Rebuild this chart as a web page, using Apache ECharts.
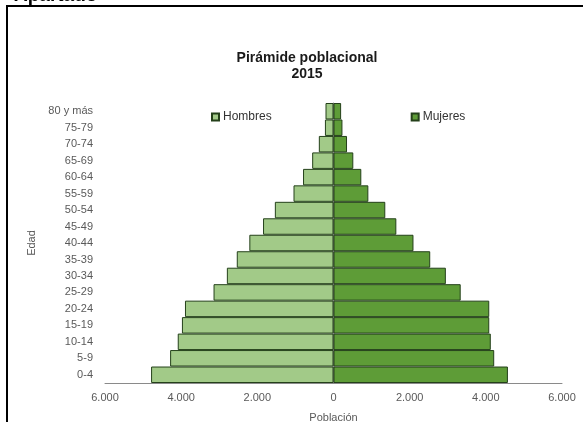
<!DOCTYPE html>
<html>
<head>
<meta charset="utf-8">
<script src="https://cdn.jsdelivr.net/npm/echarts@6/dist/echarts.min.js"></script>
<style>
html,body{margin:0;padding:0;background:#fff;}
#chart{width:583px;height:422px;}
</style>
</head>
<body>
<div id="chart"></div>
<script>
var categories = ['0-4','5-9','10-14','15-19','20-24','25-29','30-34','35-39','40-44','45-49','50-54','55-59','60-64','65-69','70-74','75-79','80 y más'];
var hombres = [4790, 4290, 4090, 3980, 3900, 3150, 2800, 2540, 2210, 1850, 1540, 1050, 800, 560, 385, 225, 210];
var mujeres = [4580, 4220, 4130, 4090, 4090, 3340, 2950, 2540, 2100, 1650, 1360, 915, 730, 520, 355, 235, 200];
var xTicks = {min: -6000, max: 6000, interval: 2000};

var font = "'Liberation Sans', Arial, sans-serif";
var chart = echarts.init(document.getElementById('chart'));
chart.setOption({
  animation: false,
  backgroundColor: '#ffffff',
  title: {
    text: 'Pirámide poblacional\n2015',
    left: 307, top: 50, textAlign: 'center', padding: 0,
    textStyle: {fontFamily: font, fontSize: 14, fontWeight: 'bold', color: '#1a1a1a', lineHeight: 16}
  },
  legend: {
    data: ['Hombres', 'Mujeres'],
    left: 211, top: 111, padding: 0,
    itemWidth: 7, itemHeight: 7, itemGap: 139,
    icon: 'rect',
    textStyle: {fontFamily: font, fontSize: 12, color: '#333', padding: [0,0,0,-1]}
  },
  grid: {left: 105, right: 21, top: 103, bottom: 39, containLabel: false, outerBoundsMode: 'none'},
  xAxis: {
    type: 'value', min: xTicks.min, max: xTicks.max, interval: xTicks.interval,
    name: 'Población', nameLocation: 'middle', nameGap: 29,
    nameTextStyle: {fontFamily: font, fontSize: 11, color: '#595959'},
    axisLine: {show: true, lineStyle: {color: '#8a8a8a', width: 1}},
    axisTick: {show: false},
    splitLine: {show: false},
    axisLabel: {
      fontFamily: font, fontSize: 11, color: '#595959', margin: 9,
      formatter: function (v) { return v === 0 ? '0' : (Math.abs(v) / 1000).toFixed(3); }
    }
  },
  yAxis: {
    type: 'category', data: categories,
    name: 'Edad', nameLocation: 'middle', nameGap: 64, nameRotate: 90,
    nameTextStyle: {fontFamily: font, fontSize: 11, color: '#595959'},
    axisLine: {show: true, lineStyle: {color: '#8a8a8a', width: 1}},
    axisTick: {show: false},
    axisLabel: {fontFamily: font, fontSize: 11, color: '#595959', margin: 12}
  },
  series: [
    {
      name: 'Hombres', type: 'bar', stack: 'total', barCategoryGap: 0,
      data: hombres.map(function (v) { return -v; }),
      itemStyle: {color: '#a2ca88', borderColor: '#24401a', borderWidth: 1}
    },
    {
      name: 'Mujeres', type: 'bar', stack: 'total', barCategoryGap: 0,
      data: mujeres,
      itemStyle: {color: '#5e9c37', borderColor: '#24401a', borderWidth: 1}
    }
  ],
  graphic: [
    {type: 'text', left: 14, top: -14, style: {text: 'Apartado', fontFamily: font, fontSize: 19, fontWeight: 'bold', fill: '#000'}},
    {type: 'rect', shape: {x: 0, y: 6, width: 583, height: 3}, style: {fill: '#fff'}},
    {type: 'line', shape: {x1: 7, y1: 6, x2: 583, y2: 6}, style: {stroke: '#000', lineWidth: 2}},
    {type: 'line', shape: {x1: 7, y1: 5, x2: 7, y2: 422}, style: {stroke: '#000', lineWidth: 2}}
  ]
});
</script>
</body>
</html>
